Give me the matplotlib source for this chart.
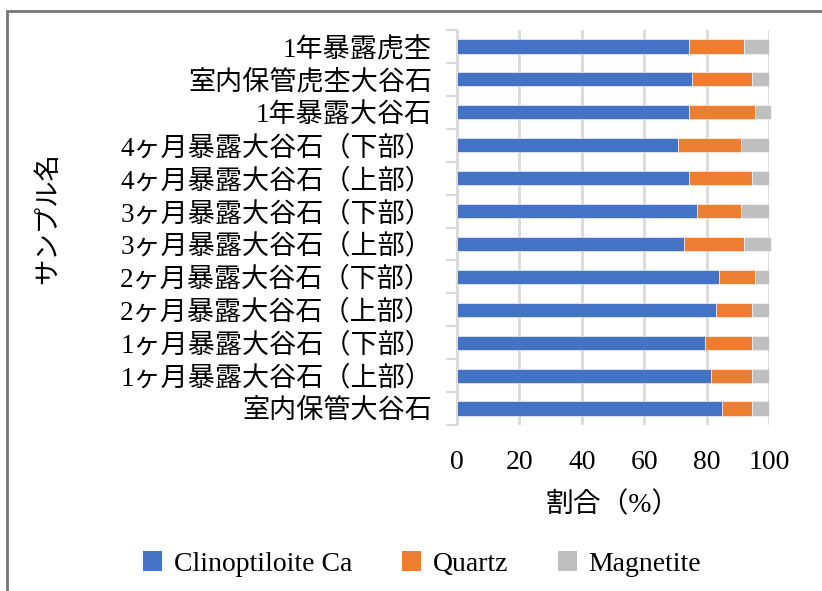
import matplotlib
matplotlib.use("Agg")
import matplotlib.pyplot as plt
import numpy as np
from matplotlib.patches import Rectangle, Patch

# sample names, listed top to bottom
samples = [
    "1年暴露虎杢",
    "室内保管虎杢大谷石",
    "1年暴露大谷石",
    "4ヶ月暴露大谷石（下部）",
    "4ヶ月暴露大谷石（上部）",
    "3ヶ月暴露大谷石（下部）",
    "3ヶ月暴露大谷石（上部）",
    "2ヶ月暴露大谷石（下部）",
    "2ヶ月暴露大谷石（上部）",
    "1ヶ月暴露大谷石（下部）",
    "1ヶ月暴露大谷石（上部）",
    "室内保管大谷石",
]

# mineral fractions (%)
clinoptilolite = [74.4, 75.3, 74.4, 70.8, 74.4, 76.8, 72.7, 84.0, 83.1, 79.6, 81.4, 84.9]
quartz = [17.5, 19.2, 21.0, 20.1, 20.1, 14.1, 19.2, 11.4, 11.4, 14.9, 13.1, 9.6]
magnetite = [8.1, 5.5, 5.1, 9.1, 5.5, 9.1, 8.6, 4.6, 5.5, 5.5, 5.5, 5.5]

series_names = ["Clinoptiloite Ca", "Quartz", "Magnetite"]
colors = ["#4472C4", "#ED7D31", "#BFBFBF"]

jp_font = ["Liberation Serif", "Noto Sans CJK JP"]
plt.rcParams["font.family"] = jp_font

fig = plt.figure(figsize=(8.22, 5.91), dpi=100)
ax = fig.add_axes([457 / 822, 1 - 425 / 591, (769 - 457) / 822, (425 - 30) / 591])

# outer chart frame
fig.patches.append(Rectangle((7 / 822, -0.05), 1.1, 1 - 11 / 591 + 0.05,
                             transform=fig.transFigure, fill=False,
                             edgecolor="#767676", linewidth=2))

y = np.arange(len(samples))
left = np.zeros(len(samples))
for vals, name, c in zip([clinoptilolite, quartz, magnetite], series_names, colors):
    ax.barh(y, vals, left=left, height=0.43, color=c, label=name,
            edgecolor="white", linewidth=0.4, clip_on=False, zorder=3)
    left = left + np.array(vals)

ax.set_xlim(0, 100)
ax.set_ylim(len(samples) - 0.5, -0.5)
ax.set_xticks(np.arange(0, 101, 20))
ax.xaxis.grid(True, color="#D9D9D9", linewidth=2, zorder=0)
ax.set_axisbelow(True)

ax.set_yticks(y)
ax.set_yticklabels(samples, fontsize=19.5)
ax.set_yticks(np.arange(-0.5, len(samples)), minor=True)
ax.tick_params(axis="y", which="major", length=0, pad=18)
ax.tick_params(axis="y", which="minor", length=8, color="#D9D9D9", width=1.5)
ax.tick_params(axis="x", length=0, labelsize=20, pad=18)

for side in ["top", "right", "bottom"]:
    ax.spines[side].set_visible(False)
ax.spines["left"].set_color("#D9D9D9")
ax.spines["left"].set_linewidth(1.5)

ax.set_xlabel("割合（%）", fontsize=20, labelpad=12)
fig.text(48 / 822, 1 - 218 / 591, "サンプル名", rotation=90, fontsize=19,
         ha="center", va="center")

handles = [Patch(facecolor=c, label=n) for c, n in zip(colors, series_names)]
fig.legend(handles=handles, loc="center", bbox_to_anchor=(422 / 822, 1 - 564 / 591),
           ncol=3, frameon=False, fontsize=20, handlelength=0.7, handleheight=0.7,
           handletextpad=0.4, columnspacing=1.8)

fig.savefig("out.png", dpi=100)
